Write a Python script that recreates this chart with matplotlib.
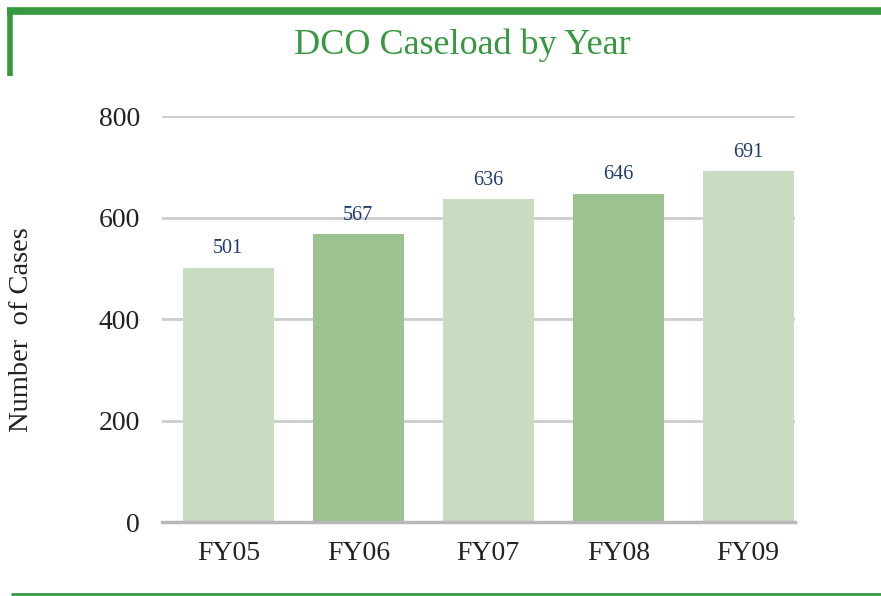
import matplotlib.pyplot as plt
from matplotlib.lines import Line2D

years = ['FY05', 'FY06', 'FY07', 'FY08', 'FY09']
cases = [501, 567, 636, 646, 691]
bar_colors = ['#c8dcc2', '#9bc28f', '#c8dcc2', '#9bc28f', '#c8dcc2']

green = '#36993f'
serif = ['Liberation Serif', 'DejaVu Serif']
plt.rcParams['font.family'] = serif

fig = plt.figure(figsize=(8.81, 5.96), dpi=100)
W, H = 881, 596

# frame lines: top bar, left stub, bottom rule
fig.add_artist(Line2D([7 / W, 1], [1 - 11 / H, 1 - 11 / H], color=green, lw=5.5,
                      solid_capstyle='butt', transform=fig.transFigure))
fig.add_artist(Line2D([10 / W, 10 / W], [1 - 8 / H, 1 - 76 / H], color=green, lw=4,
                      solid_capstyle='butt', transform=fig.transFigure))
fig.add_artist(Line2D([11 / W, 1], [1 - 594 / H, 1 - 594 / H], color=green, lw=2,
                      solid_capstyle='butt', transform=fig.transFigure))

fig.text(462 / W, 1 - 45 / H, 'DCO Caseload by Year', color=green, fontsize=26,
         ha='center', va='center')

ax = fig.add_axes([162 / W, 1 - 522 / H, (795 - 162) / W, (522 - 116) / H])
x = range(len(years))
bars = ax.bar(x, cases, width=0.7, color=bar_colors, zorder=3)

ax.set_xlim(-0.51, 4.36)
ax.set_ylim(0, 800)
ax.set_yticks([0, 200, 400, 600, 800])
ax.grid(axis='y', color='#cccccc', lw=2, zorder=0)
ax.set_axisbelow(True)
for s in ['top', 'right', 'left']:
    ax.spines[s].set_visible(False)
ax.spines['bottom'].set_color('#b8b8b8')
ax.spines['bottom'].set_linewidth(2.5)
ax.spines['bottom'].set_zorder(4)

ax.set_xticks(list(x))
ax.set_xticklabels(years)
ax.tick_params(axis='both', length=0, labelsize=20, colors='#222222')
ax.tick_params(axis='y', pad=16)
ax.tick_params(axis='x', pad=14)

for b, v in zip(bars, cases):
    ax.annotate(str(v), (b.get_x() + b.get_width() / 2, v), xytext=(0, 7),
                textcoords='offset points', ha='center', va='bottom',
                fontsize=14.5, color='#1f3a70')

fig.text(22 / W, 1 - 330 / H, 'Number  of Cases', rotation=90, fontsize=20.5,
         color='#222222', ha='center', va='center')

fig.savefig('out.png', dpi=100)
